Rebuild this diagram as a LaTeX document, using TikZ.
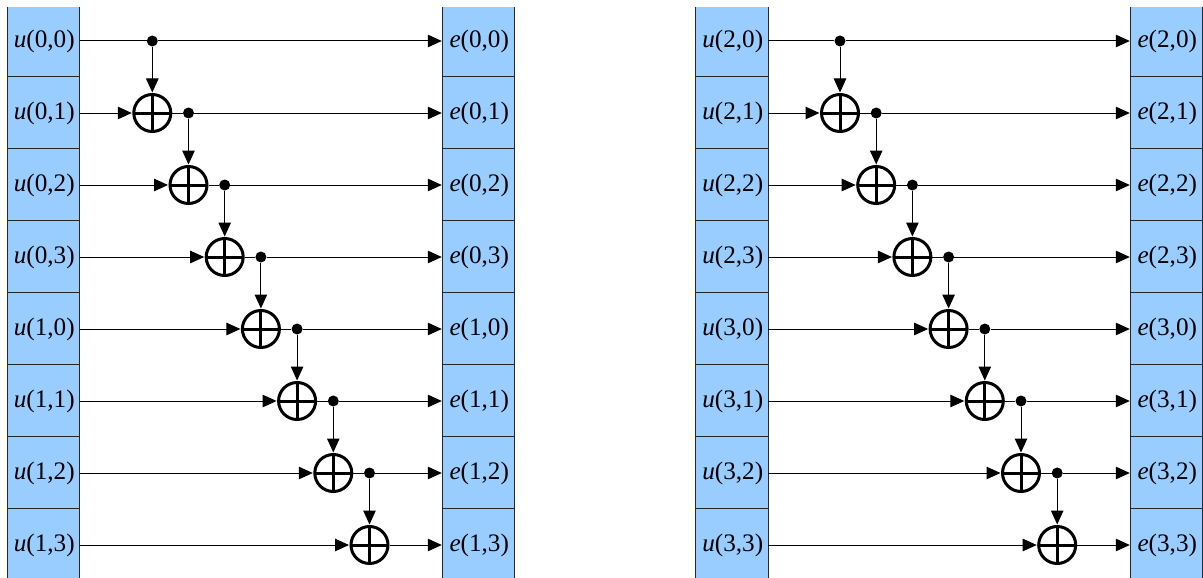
\documentclass[tikz,border=0pt]{standalone}
\usepackage{fontspec}
\setmainfont{Liberation Serif}
\usetikzlibrary{arrows.meta}
\tikzset{
  x=1pt,y=-1pt,
  cellbox/.style={fill=cellblue,draw=none,inner sep=0pt,minimum width=72pt,minimum height=72pt,text width=72pt,align=center,font=\fontsize{25.2}{25.2}\selectfont,text height=17pt,text depth=5pt},
  edgeline/.style={line width=1.1pt,draw=black!85},
  wire/.style={line width=1pt,draw=black},
  arrowwire/.style={wire,-{Triangle[length=14pt,width=12.5pt]},shorten >=0.5pt},
  xorgate/.style={circle,draw=black,line width=3pt,minimum size=37pt,inner sep=0pt,
    path picture={\draw[line width=3pt] (path picture bounding box.north)--(path picture bounding box.south)
      (path picture bounding box.west)--(path picture bounding box.east);}},
  tapdot/.style={circle,fill=black,inner sep=0pt,minimum size=11pt},
}
\definecolor{cellblue}{RGB}{153,204,255}
\newcommand{\drawgroup}[5]{%
 \foreach \lab [count=\r from 0] in {#5}{
   \pgfmathsetmacro{\yb}{41.0+72*\r}
   \node[cellbox] (#1u\r) at (#2,\yb) {\hspace*{1.5pt}\raisebox{-0.5pt}{\strut$\mathit{u}$(\lab)}};
   \node[cellbox] (#1e\r) at (#3,\yb) {\hspace*{1.5pt}\raisebox{-0.5pt}{\strut$\mathit{e}$(\lab)}};
   \draw[edgeline] (#1u\r.north west)--(#1u\r.south west) (#1u\r.north east)--(#1u\r.south east)
     (#1e\r.north west)--(#1e\r.south west) (#1e\r.north east)--(#1e\r.south east);
   \ifnum\r>0
     \draw[edgeline] (#1u\r.north west)--(#1u\r.north east) (#1e\r.north west)--(#1e\r.north east);
   \fi
 }
 \foreach \g in {0,...,7}{
   \pgfmathsetmacro{\yy}{41.0+72*\g}
   \pgfmathsetmacro{\xx}{#4+36.2*(\g-1)}
   \pgfmathsetmacro{\xd}{#4+36.2*\g}
   \ifnum\g>0
     \node[xorgate] (#1x\g) at (\xx,\yy) {};
   \fi
   \ifnum\g<7
     \node[tapdot] (#1d\g) at (\xd,\yy) {};
   \fi
 }
 \foreach \g in {0,...,7}{
   \ifnum\g=0
     \draw[wire] (#1u0.east)--(#1d0);
   \else
     \draw[arrowwire] (#1u\g.east)--(#1x\g.west);
   \fi
   \ifnum\g<7
     \ifnum\g>0 \draw[wire] (#1x\g.east)--(#1d\g); \fi
     \draw[arrowwire] (#1d\g)--(#1e\g.west);
     \pgfmathtruncatemacro{\n}{\g+1}
     \draw[arrowwire] (#1d\g)--(#1x\n.north);
   \else
     \draw[arrowwire] (#1x7.east)--(#1e7.west);
   \fi
 }
}
\begin{document}
\begin{tikzpicture}
\useasboundingbox (0,0) rectangle (1203,578);
\clip (0,7.5) rectangle (1203,578);
\drawgroup{a}{43.5}{478.5}{152.3}{{0,0},{0,1},{0,2},{0,3},{1,0},{1,1},{1,2},{1,3}}
\drawgroup{b}{732}{1166.5}{840}{{2,0},{2,1},{2,2},{2,3},{3,0},{3,1},{3,2},{3,3}}
\end{tikzpicture}
\end{document}
